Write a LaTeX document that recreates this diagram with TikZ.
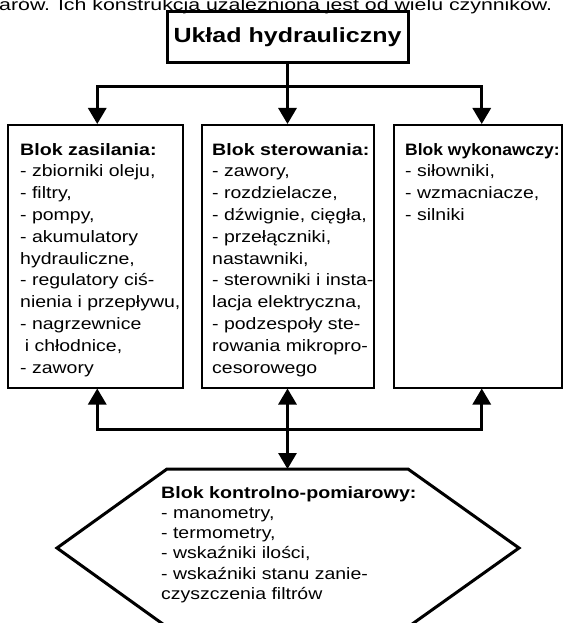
\documentclass[tikz,border=0pt]{standalone}
\usepackage{fontspec}
\setmainfont{Liberation Sans}
\newfontfamily\rg{Liberation Sans}[FakeStretch=1.18]
\newfontfamily\rgt{Liberation Sans}[FakeStretch=1.3]
\newfontfamily\bd{Liberation Sans}[FakeStretch=1.19]
\newfontfamily\bdt{Liberation Sans}[FakeStretch=1.22]
\newfontfamily\bdn{Liberation Sans}[FakeStretch=1.06]
\usetikzlibrary{arrows.meta}
\tikzset{
  blk/.style={draw, line width=1.5pt, inner sep=0pt, anchor=north west},
  ttl/.style={draw, line width=3pt, inner sep=0pt, minimum width=241pt, minimum height=51pt,
              font=\bdt\bfseries\fontsize{20.5}{24}\selectfont},
  conn/.style={line width=3pt},
  arr/.style={line width=3pt, -{Triangle[width=18pt,length=16pt]}},
  dbl/.style={line width=3pt, {Triangle[width=18pt,length=16pt]}-{Triangle[width=18pt,length=16pt]}},
  txt/.style={anchor=base west, inner sep=0pt},
  hexa/.style={line width=3pt, line join=miter}
}
\newcommand{\bt}[1]{{\bd\bfseries #1}}
\newcommand{\lst}[2][21.8]{\parbox[t]{260pt}{\rg\fontsize{16.5}{#1}\selectfont #2}}
\begin{document}
\begin{tikzpicture}[x=1pt,y=-1pt]
\useasboundingbox (0,0) rectangle (564,623);
% clipped page text
\node[txt] (pg) at (-1,11) {\rgt\fontsize{16.4}{18}\selectfont arów. Ich konstrukcja uzależniona jest od wielu czynników.};
% title
\node[ttl] (top) at (287.5,37.5) {Układ hydrauliczny};
% boxes
\node[blk, minimum width=175pt, minimum height=263pt] (lb) at (7,124) {};
\node[blk, minimum width=172pt, minimum height=263pt] (cb) at (201,124) {};
\node[blk, minimum width=168pt, minimum height=263pt] (rb) at (393,124) {};
\node[txt] (lbt) at (20,155) {\lst{\bt{Blok zasilania:}\\
- zbiorniki oleju,\\
- filtry,\\
- pompy,\\
- akumulatory\\
hydrauliczne,\\
- regulatory ciś-\\
nienia i przepływu,\\
- nagrzewnice\\
\hspace*{0.28em}i chłodnice,\\
- zawory}};
\node[txt] (cbt) at (212,155) {\lst{\bt{Blok sterowania:}\\
- zawory,\\
- rozdzielacze,\\
- dźwignie, cięgła,\\
- przełączniki,\\
nastawniki,\\
- sterowniki i insta-\\
lacja elektryczna,\\
- podzespoły ste-\\
rowania mikropro-\\
cesorowego}};
\node[txt] (rbt) at (405,155) {\lst{{\bdn\bfseries Blok wykonawczy:}\\
- siłowniki,\\
- wzmacniacze,\\
- silniki}};
% hexagon
\draw[hexa] (167,469) -- (408,469) -- (519,548) -- (408,627) -- (167,627) -- (57,548) -- cycle;
\coordinate (hx) at (287.5,469);
\node[txt] (hxt) at (161,498) {\lst[20.3]{\bt{Blok kontrolno-pomiarowy:}\\
- manometry,\\
- termometry,\\
- wskaźniki ilości,\\
- wskaźniki stanu zanie-\\
czyszczenia filtrów}};
% top connectors
\coordinate (j1) at (287.5,87);
\draw[conn] (top.south) -- (j1);
\draw[arr] (j1) -| ([xshift=2pt]lb.north);
\draw[arr] (j1) -| ([xshift=4pt]rb.north);
\draw[arr] (j1) -- (j1 |- cb.north);
% bottom connectors
\coordinate (j2) at (287.5,429);
\draw[arr] (j2) -| ([xshift=2pt]lb.south);
\draw[arr] (j2) -| ([xshift=4pt]rb.south);
\draw[dbl] (hx) -- (hx |- cb.south);
\end{tikzpicture}
\end{document}
